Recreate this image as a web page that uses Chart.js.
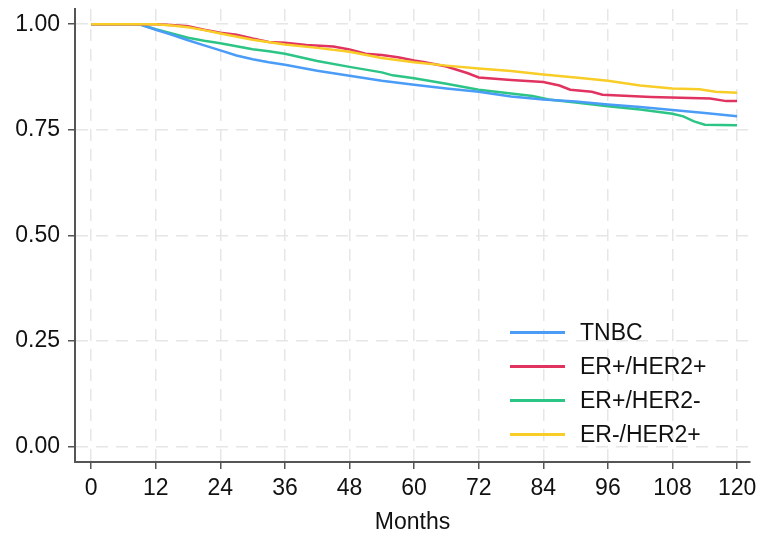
<!DOCTYPE html>
<html>
<head>
<meta charset="utf-8">
<script src="https://cdn.jsdelivr.net/npm/chart.js@4"></script>
<style>
    html, body { margin: 0; padding: 0; background: #fff; }
    #wrap { position: relative; width: 761px; height: 537px; }
    #legend { position: absolute; left: 510px; top: 315px; font: 23px "Liberation Sans", Arial, sans-serif; color: #111; }
    .row { display: flex; align-items: center; height: 34px; }
    .swatch { width: 55px; height: 3px; margin-right: 15px; }
</style>
</head>
<body>
<div id="wrap">
    <canvas id="km-chart" width="761" height="537"></canvas>
    <div id="legend"></div>
</div>
<script>
// survival curves (months, proportion)
const tnbcMonths = [0, 9, 12, 15, 18, 21, 24, 27, 30, 33, 36, 42, 48, 54, 60, 66, 72, 78, 84, 90, 96, 102, 108, 114, 120];
const tnbcSurv = [1, 1, 0.987, 0.975, 0.962, 0.950, 0.938, 0.926, 0.917, 0.910, 0.904, 0.890, 0.878, 0.866, 0.857, 0.848, 0.840, 0.829, 0.822, 0.817, 0.810, 0.804, 0.797, 0.790, 0.782];

const erpHerpMonths = [0, 12, 15, 18, 21, 24, 27, 30, 33, 36, 40, 45, 48, 51, 54, 57, 60, 62, 66, 70, 72, 78, 84, 87, 89, 93, 95, 104, 115, 118, 120];
const erpHerpSurv = [1, 1, 0.998, 0.995, 0.987, 0.980, 0.975, 0.966, 0.958, 0.956, 0.951, 0.947, 0.940, 0.930, 0.927, 0.922, 0.914, 0.910, 0.900, 0.884, 0.874, 0.868, 0.863, 0.855, 0.845, 0.840, 0.833, 0.828, 0.824, 0.818, 0.818];

const erpHernMonths = [0, 9, 12, 15, 18, 21, 24, 27, 30, 33, 36, 42, 48, 54, 56, 60, 66, 72, 78, 82, 85, 90, 96, 102, 108, 110, 112, 114, 120];
const erpHernSurv = [1, 1, 0.988, 0.978, 0.968, 0.961, 0.955, 0.948, 0.941, 0.936, 0.930, 0.913, 0.899, 0.886, 0.879, 0.872, 0.859, 0.845, 0.836, 0.830, 0.822, 0.815, 0.806, 0.798, 0.788, 0.782, 0.770, 0.762, 0.761];

const ernHerpMonths = [0, 12, 15, 18, 21, 24, 30, 36, 42, 48, 54, 60, 66, 72, 78, 84, 90, 96, 102, 108, 113, 116, 120];
const ernHerpSurv = [1, 1, 0.997, 0.993, 0.986, 0.978, 0.963, 0.952, 0.944, 0.935, 0.920, 0.910, 0.902, 0.895, 0.889, 0.881, 0.874, 0.866, 0.855, 0.848, 0.846, 0.840, 0.838];

const groupLabels = ['TNBC', 'ER+/HER2+', 'ER+/HER2-', 'ER-/HER2+'];
const groupColors = ['#4a9cf7', '#e0335f', '#2dc585', '#f8cd27'];
const xTicks = [0, 12, 24, 36, 48, 60, 72, 84, 96, 108, 120];
const yTicks = [0, 0.25, 0.5, 0.75, 1];

const FONT = '"Liberation Sans", Arial, sans-serif';

function toPoints(months, surv) {
    return months.map((m, i) => ({ x: m, y: surv[i] }));
}

const series = [
    toPoints(tnbcMonths, tnbcSurv),
    toPoints(erpHerpMonths, erpHerpSurv),
    toPoints(erpHernMonths, erpHernSurv),
    toPoints(ernHerpMonths, ernHerpSurv)
];

const datasets = series.map((pts, i) => ({
    label: groupLabels[i],
    data: pts,
    borderColor: groupColors[i],
    borderWidth: 2.5,
    pointRadius: 0,
    tension: 0,
    fill: false
}));

// draw order: red/yellow on top like the figure
datasets[0].order = 3;
datasets[2].order = 4;
datasets[1].order = 2;
datasets[3].order = 1;

const gridStyle = {
    color: '#e6e6e6',
    lineWidth: 1.5,
    tickColor: '#555',
    tickBorderDash: [],
    tickLength: 7,
    tickWidth: 1.5
};
const borderStyle = { color: '#555', width: 2, dash: [12, 8] };

new Chart(document.getElementById('km-chart').getContext('2d'), {
    type: 'line',
    data: { datasets: datasets },
    options: {
        responsive: false,
        animation: false,
        layout: { padding: { top: 9, right: 11, left: 0, bottom: 0 } },
        plugins: {
            legend: { display: false },
            tooltip: { enabled: false }
        },
        scales: {
            x: {
                type: 'linear',
                min: -3,
                max: 122.4,
                afterBuildTicks: scale => { scale.ticks = xTicks.map(v => ({ value: v })); },
                afterFit: scale => {
                    scale.height = 75;
                    scale.paddingLeft = 0;
                    scale.paddingRight = 0;
                },
                ticks: {
                    color: '#111',
                    padding: 6,
                    maxRotation: 0,
                    autoSkip: false,
                    font: { family: FONT, size: 23 }
                },
                grid: gridStyle,
                border: borderStyle,
                title: {
                    display: true,
                    text: 'Months',
                    color: '#111',
                    font: { family: FONT, size: 23 },
                    padding: { top: 0, bottom: 1 }
                }
            },
            y: {
                type: 'linear',
                min: -0.036,
                max: 1.036,
                afterBuildTicks: scale => { scale.ticks = yTicks.map(v => ({ value: v })); },
                afterFit: scale => {
                    scale.width = 75;
                    scale.paddingTop = 0;
                    scale.paddingBottom = 0;
                },
                ticks: {
                    color: '#111',
                    padding: 8,
                    autoSkip: false,
                    font: { family: FONT, size: 23 },
                    callback: v => v.toFixed(2)
                },
                grid: gridStyle,
                border: borderStyle
            }
        }
    }
});

// legend placed inside the plot, lower right
const legend = document.getElementById('legend');
groupLabels.forEach((label, i) => {
    const row = document.createElement('div');
    row.className = 'row';
    const sw = document.createElement('span');
    sw.className = 'swatch';
    sw.style.background = groupColors[i];
    const txt = document.createElement('span');
    txt.textContent = label;
    row.appendChild(sw);
    row.appendChild(txt);
    legend.appendChild(row);
});
</script>
</body>
</html>
